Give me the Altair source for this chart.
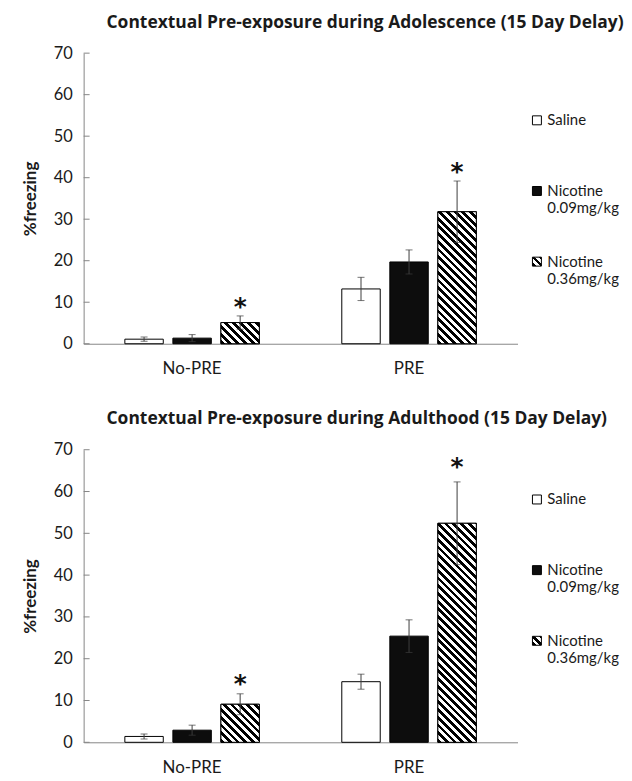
import math
import altair as alt
import pandas as pd

# ---------------- data ----------------
groups = ["No-PRE", "PRE"]
treatments = ["Saline", "Nicotine 0.09mg/kg", "Nicotine 0.36mg/kg"]

# order: No-PRE (Saline, Nic .09, Nic .36), PRE (Saline, Nic .09, Nic .36)
adol_mean = [1.1, 1.35, 5.1, 13.2, 19.7, 31.8]
adol_err = [0.5, 0.85, 1.6, 2.8, 2.9, 7.4]
adult_mean = [1.4, 2.9, 9.1, 14.5, 25.4, 52.4]
adult_err = [0.6, 1.2, 2.5, 1.8, 3.9, 9.9]

# asterisk heights (data units) above the 0.36 mg/kg bars
adol_star = [9.7, 42.1]
adult_star = [14.8, 66.8]

y_ticks = [0, 10, 20, 30, 40, 50, 60, 70]

titles = [
    "Contextual Pre-exposure during Adolescence (15 Day Delay)",
    "Contextual Pre-exposure during Adulthood (15 Day Delay)",
]

# ---------------- style ----------------
FONT = "Lato"
TFONT = "Open Sans"
TXT = "#1a1a1a"
AXC = "#868686"
ERRC = "#3c3c3c"
W = 436
P_IN, P_OUT = 0.38, 0.19
O_IN = 0.2
PERIOD = 5.5  # hatch period (px, perpendicular)


def bar_width():
    step = W / (len(groups) - P_IN + 2 * P_OUT)
    band = step * (1 - P_IN)
    step2 = band / (len(treatments) - O_IN)
    return step2 * (1 - O_IN)


def hatch_stops(length_px):
    pt = PERIOD / length_px
    stops = []
    t = 0.0
    while t < 1 - 1e-9:
        b = min(t + pt / 2, 1.0)
        c = min(t + pt, 1.0)
        stops += [{"offset": round(t, 5), "color": "black"},
                  {"offset": round(b, 5), "color": "black"}]
        if b < 1:
            stops += [{"offset": round(b, 5), "color": "white"},
                      {"offset": round(c, 5), "color": "white"}]
        t += pt
    return stops


def bar_gradient(w, h):
    s = (w + h) / (w * w + h * h)
    return {
        "gradient": "linear",
        "x1": 0, "y1": 1,
        "x2": round(s * w, 5), "y2": round(1 - s * h, 5),
        "stops": hatch_stops((w + h) / math.sqrt(2)),
    }


def legend_gradient_expr():
    st = hatch_stops(18 / math.sqrt(2))
    parts = ",".join("{offset:%s,color:'%s'}" % (d["offset"], d["color"]) for d in st)
    return "{gradient:'linear',x1:0,y1:1,x2:1,y2:0,stops:[%s]}" % parts


def make_df(means, errs):
    rows = []
    i = 0
    for g in groups:
        for t in treatments:
            rows.append({"group": g, "treat": t, "mean": means[i],
                         "lo": means[i] - errs[i], "hi": means[i] + errs[i]})
            i += 1
    return pd.DataFrame(rows)


def panel(title, means, errs, stars, H, legend_y):
    df = make_df(means, errs)
    star_df = pd.DataFrame({"group": groups, "treat": [treatments[2]] * 2, "star": stars})
    tick_df = pd.DataFrame({"v": y_ticks})

    yaxis = alt.Axis(values=y_ticks, ticks=False, tickSize=0, grid=False,
                     domainColor=AXC, labelFont=FONT, labelFontSize=16.5,
                     labelColor=TXT, labelPadding=11.5, title="%freezing",
                     titleFont=FONT, titleFontWeight="bold", titleFontSize=17,
                     titleColor=TXT, titlePadding=14)
    yscale = alt.Scale(domain=[0, 70], nice=False)
    X = alt.X("group:N", sort=groups,
              scale=alt.Scale(domain=groups, paddingInner=P_IN, paddingOuter=P_OUT),
              axis=alt.Axis(title=None, ticks=False, labelAngle=0, labelFont=FONT,
                            labelFontSize=17, labelColor=TXT, labelPadding=17,
                            domainColor=AXC))
    XO = alt.XOffset("treat:N", sort=treatments,
                     scale=alt.Scale(domain=treatments, paddingInner=O_IN, paddingOuter=0))

    def Y(field):
        return alt.Y(field, scale=yscale, axis=yaxis)

    base = alt.Chart(df)
    bars = base.mark_bar(stroke="black", strokeWidth=1).encode(
        x=X, xOffset=XO, y=Y("mean:Q"),
        fill=alt.Fill("treat:N", sort=treatments,
                      scale=alt.Scale(domain=treatments,
                                      range=["white", "#0d0d0d", {"expr": legend_gradient_expr()}]),
                      legend=alt.Legend(
                          title=None, orient="none", legendX=448, legendY=legend_y,
                          padding=0, symbolType="square", symbolSize=81,
                          symbolStrokeColor="black", symbolStrokeWidth=1,
                          labelFont=FONT, labelFontSize=15, labelColor=TXT,
                          labelOffset=3, rowPadding=38, labelLimit=0,
                          labelExpr="datum.label == 'Saline' ? ['Saline', ' '] : split(datum.label, ' ')")),
    )

    w = bar_width()
    layers = [bars]
    for i, g in enumerate(groups):
        v = means[i * 3 + 2]
        h = v * H / 70.0
        hatch = base.transform_filter(
            (alt.datum.group == g) & (alt.datum.treat == treatments[2])
        ).mark_bar(stroke="black", strokeWidth=1, fill=bar_gradient(w, h)).encode(
            x=X, xOffset=XO, y=Y("mean:Q"))
        layers.append(hatch)

    err = base.mark_rule(color=ERRC, strokeWidth=1).encode(
        x=X, xOffset=XO, y=Y("lo:Q"), y2="hi:Q")
    cap_hi = base.mark_tick(color=ERRC, size=7, thickness=1).encode(
        x=X, xOffset=XO, y=Y("hi:Q"))
    cap_lo = base.mark_tick(color=ERRC, size=7, thickness=1).encode(
        x=X, xOffset=XO, y=Y("lo:Q"))
    star = alt.Chart(star_df).mark_text(
        text="*", font="DejaVu Sans", fontSize=25, fontWeight="bold",
        color="#111", baseline="alphabetic", dy=11.5).encode(
        x=X, xOffset=XO, y=Y("star:Q"))
    inticks = alt.Chart(tick_df).mark_rule(color=AXC, strokeWidth=1).encode(
        y=Y("v:Q"), x=alt.value(0), x2=alt.value(6))

    layers += [err, cap_hi, cap_lo, star, inticks]
    return alt.layer(*layers).properties(
        width=W, height=H,
        title=alt.TitleParams(text=title, anchor="start", frame="group", dx=23,
                              font=TFONT, fontSize=17.5, fontWeight="bold",
                              color=TXT, baseline="alphabetic", offset=0),
    )


top = panel(titles[0], adol_mean, adol_err, adol_star, 292, 60)
bottom = panel(titles[1], adult_mean, adult_err, adult_star, 294, 42.5)

chart = alt.vconcat(top, bottom, spacing=33.5).resolve_scale(
    fill="independent").resolve_legend(fill="independent").configure_view(
    stroke=None).properties(padding={"left": 13, "top": 3.5, "right": 0, "bottom": 0})

chart.save("out.html", embed_options={"renderer": "svg", "actions": False})
